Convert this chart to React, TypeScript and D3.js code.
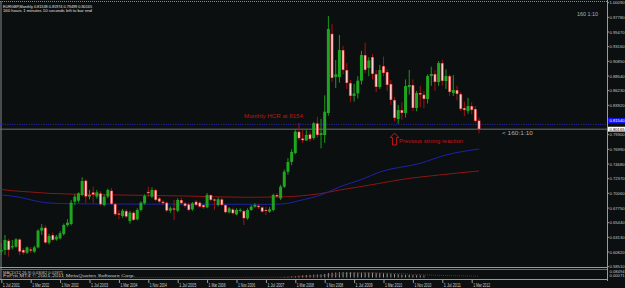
import React from "react";
import * as d3 from "d3";

const W = 625, H = 288;

const opens = [0.6090,0.6114,0.6261,0.6155,0.6166,0.6281,0.6114,0.6072,0.6124,0.6087,0.6155,0.6418,0.6465,0.6229,0.6350,0.6281,0.6297,0.6365,0.6507,0.6523,0.6875,0.6891,0.6980,0.7206,0.6954,0.7022,0.6954,0.7006,0.6822,0.6954,0.7048,0.6838,0.6691,0.6649,0.6728,0.6570,0.6702,0.6597,0.6744,0.6849,0.7030,0.6954,0.7058,0.6927,0.6875,0.6859,0.6733,0.6770,0.6733,0.6901,0.6849,0.6833,0.6754,0.6875,0.6859,0.6822,0.6786,0.6980,0.6912,0.6822,0.6912,0.6822,0.6707,0.6754,0.6675,0.6728,0.6728,0.6612,0.6744,0.6796,0.6812,0.6786,0.6744,0.6717,0.6744,0.6980,0.6927,0.7111,0.7347,0.7500,0.7641,0.7977,0.7872,0.7840,0.7935,0.7877,0.8109,0.7924,0.7924,0.8271,0.9520,0.8840,0.8838,0.9263,0.8948,0.8743,0.8540,0.8580,0.8780,0.9184,0.8980,0.9153,0.8885,0.8680,0.9011,0.8917,0.8728,0.8476,0.8176,0.8318,0.8271,0.8680,0.8712,0.8350,0.8586,0.8560,0.8491,0.8854,0.8885,0.8759,0.9058,0.8775,0.8854,0.8586,0.8633,0.8570,0.8350,0.8302,0.8381,0.8334,0.81538];
const highs = [0.6220,0.6350,0.6290,0.6271,0.6300,0.6300,0.6140,0.6170,0.6160,0.6180,0.6440,0.6520,0.6500,0.6370,0.6390,0.6350,0.6410,0.6530,0.6600,0.6900,0.6990,0.7020,0.7258,0.7230,0.7060,0.7111,0.7060,0.7040,0.6990,0.7080,0.7090,0.6860,0.6744,0.6760,0.6760,0.6730,0.6730,0.6770,0.6880,0.6990,0.7111,0.7100,0.7080,0.6950,0.6900,0.6880,0.6800,0.6901,0.6930,0.6940,0.6870,0.6860,0.6870,0.6900,0.6880,0.6840,0.7010,0.6990,0.6927,0.6940,0.6940,0.6840,0.6790,0.6780,0.6770,0.6770,0.6750,0.6770,0.6820,0.6850,0.6840,0.6800,0.6796,0.6790,0.7000,0.7010,0.7140,0.7380,0.7560,0.7700,0.8010,0.8114,0.8000,0.8000,0.7980,0.8130,0.8213,0.8180,0.8550,0.9800,0.9673,0.9106,0.9500,0.9330,0.9060,0.8790,0.8730,0.8850,0.9250,0.9380,0.9150,0.9200,0.8950,0.9030,0.9160,0.8960,0.8790,0.8520,0.8400,0.8440,0.8800,0.8950,0.8800,0.8620,0.8700,0.8620,0.8880,0.9000,0.8950,0.9090,0.9110,0.8960,0.8880,0.8870,0.8700,0.8600,0.8450,0.8510,0.8440,0.8380,0.81974];
const lows = [0.6030,0.6035,0.6009,0.6124,0.6150,0.6035,0.6040,0.6050,0.6070,0.6070,0.6140,0.6350,0.6210,0.6200,0.6250,0.6260,0.6280,0.6340,0.6480,0.6500,0.6820,0.6860,0.6960,0.6849,0.6910,0.6849,0.6920,0.6810,0.6800,0.6930,0.6820,0.6650,0.6597,0.6620,0.6620,0.6530,0.6570,0.6580,0.6720,0.6830,0.6950,0.6930,0.6880,0.6850,0.6820,0.6710,0.6700,0.6586,0.6710,0.6830,0.6780,0.6720,0.6730,0.6800,0.6780,0.6760,0.6770,0.6880,0.6744,0.6800,0.6800,0.6690,0.6690,0.6670,0.6660,0.6710,0.6507,0.6590,0.6730,0.6780,0.6760,0.6700,0.6665,0.6700,0.6720,0.6930,0.6900,0.7090,0.7300,0.7450,0.7620,0.7840,0.7800,0.7830,0.7820,0.7850,0.7880,0.7715,0.7800,0.8230,0.8760,0.8665,0.8750,0.8880,0.8650,0.8440,0.8450,0.8500,0.8720,0.8900,0.8850,0.8800,0.8600,0.8650,0.8850,0.8620,0.8400,0.8140,0.8100,0.8165,0.8200,0.8560,0.8300,0.8300,0.8360,0.8350,0.8420,0.8700,0.8620,0.8700,0.8700,0.8650,0.8540,0.8540,0.8470,0.8300,0.8220,0.8260,0.8250,0.8120,0.79499];
const closes = [0.6114,0.6271,0.6114,0.6176,0.6281,0.6087,0.6072,0.6155,0.6103,0.6155,0.6418,0.6465,0.6229,0.6334,0.6271,0.6323,0.6376,0.6507,0.6544,0.6859,0.6954,0.7006,0.7200,0.6954,0.6980,0.6985,0.7022,0.6833,0.6954,0.7058,0.6838,0.6675,0.6670,0.6733,0.6638,0.6702,0.6586,0.6744,0.6859,0.6964,0.7006,0.7058,0.6901,0.6875,0.6849,0.6733,0.6770,0.6750,0.6901,0.6849,0.6807,0.6744,0.6849,0.6822,0.6796,0.6786,0.6980,0.6901,0.6891,0.6912,0.6822,0.6707,0.6770,0.6691,0.6744,0.6744,0.6612,0.6744,0.6796,0.6822,0.6786,0.6717,0.6728,0.6754,0.6980,0.6954,0.7111,0.7347,0.7500,0.7657,0.7977,0.7872,0.7840,0.7925,0.7860,0.8109,0.7924,0.7955,0.8292,0.9594,0.8822,0.8880,0.9263,0.8948,0.8743,0.8539,0.8580,0.8780,0.9184,0.8948,0.9100,0.8885,0.8680,0.8948,0.8901,0.8712,0.8476,0.8192,0.8318,0.8271,0.8696,0.8712,0.8350,0.8586,0.8560,0.8491,0.8854,0.8885,0.8759,0.9058,0.8775,0.8854,0.8602,0.8633,0.8570,0.8334,0.8318,0.8381,0.8318,0.8145,0.80165];

// moving averages, read as [month index, value]
const blueMA = [[0,0.6980],[5,0.6944],[9,0.6890],[12,0.6858],[18,0.6843],[27,0.6838],[54,0.6835],[74,0.6833],[78,0.6849],[81,0.6890],[87,0.6980],[92,0.7106],[98,0.7224],[103,0.7342],[114,0.7479],[121,0.7610],[130,0.7704]];
const redMA = [[0,0.7067],[3,0.7047],[8,0.7027],[13,0.7006],[22,0.6991],[32,0.6980],[50,0.6964],[66,0.6944],[78,0.6953],[81,0.6964],[87,0.7003],[92,0.7058],[98,0.7114],[103,0.7164],[108,0.7216],[119,0.7294],[130,0.7358]];

// MACD histogram [month index, value] and signal
const macdMain = [[76,0.003],[77,0.006],[78,0.010],[79,0.015],[80,0.020],[81,0.026],[82,0.030],[83,0.034],[84,0.037],[85,0.041],[86,0.043],[87,0.045],[88,0.050],[89,0.062],[90,0.068],[91,0.071],[92,0.075],[93,0.076],[94,0.076],[95,0.074],[96,0.072],[97,0.071],[98,0.072],[99,0.071],[100,0.070],[101,0.068],[102,0.065],[103,0.063],[104,0.061],[105,0.058],[106,0.054],[107,0.048],[108,0.044],[109,0.040],[110,0.038],[111,0.036],[112,0.033],[113,0.031],[114,0.029],[115,0.027]];
const macdSignal = [[0,0.000],[30,0.001],[60,0.002],[76,0.004],[82,0.014],[88,0.030],[94,0.058],[100,0.066],[106,0.060],[112,0.045],[118,0.032],[124,0.024],[130,0.018]];

const timeLabels = ["1 Jul 2001","1 Mar 2002","1 Nov 2002","1 Jul 2003","1 Mar 2004","1 Nov 2004","1 Jul 2005","1 Mar 2006","1 Nov 2006","1 Jul 2007","1 Mar 2008","1 Nov 2008","1 Jul 2009","1 Mar 2010","1 Nov 2010","1 Jul 2011","1 Mar 2012"];
const timeLabelIdx = [0,8,16,24,32,40,48,56,64,72,80,88,96,104,112,120,128];

const priceTicks = [1.0009,0.9778,0.9547,0.9316,0.9085,0.8854,0.8623,0.8392,0.7930,0.7699,0.7468,0.7237,0.7006,0.6775,0.6544,0.6313,0.6082,0.5851];

const hcrLevel = 0.8093;
const hcrLabel = 0.8154;
const lastClose = 0.80165;
const titleLine1 = "EURGBP,Monthly  0.81538 0.81974 0.79499 0.80165";
const titleLine2 = "160 hours 1 minutes 10 seconds left to bar end";

export default function App() {
  const x = d3.scaleLinear().domain([0, 130]).range([1.3, 1.3 + 130 * 3.675]);
  const y = d3.scaleLinear().domain([0.6775, 0.7468]).range([208, 164]);
  const sy = d3.scaleLinear().domain([0, 0.0849]).range([277.5, 271.5]);
  const axisX = 607;
  const font = "'Liberation Sans', Arial, sans-serif";

  const maLine = d3.line<number[]>().x(d => x(d[0])).y(d => y(d[1])).curve(d3.curveMonotoneX);
  const sigLine = d3.line<number[]>().x(d => x(d[0])).y(d => sy(d[1])).curve(d3.curveMonotoneX);

  const candles = opens.map((o, i) => {
    const c = closes[i], h = highs[i], l = lows[i];
    const bull = c >= o;
    const cx = x(i);
    const top = y(Math.max(o, c)), bot = y(Math.min(o, c));
    const bh = Math.max(1, bot - top);
    return (
      <g key={i}>
        <line x1={cx} x2={cx} y1={y(h)} y2={y(l)} stroke={bull ? "#1c9a1c" : "#a31212"} strokeWidth={1} />
        {bull ? (
          <rect x={cx - 1.5} y={top} width={3} height={bh} fill="#1fa51f" />
        ) : (
          <g>
            <rect x={cx - 1.5} y={top} width={3} height={bh} fill="#d23030" />
            <rect x={cx - 0.8} y={top + 0.5} width={1.6} height={Math.max(0.5, bh - 1)} fill="#ffd0d0" />
          </g>
        )}
      </g>
    );
  });

  return (
    <svg width={W} height={H} style={{ position: "absolute", left: 0, top: 0, display: "block" }} fontFamily={font}>
      <rect x={0} y={0} width={W} height={H} fill="#0b0f0f" />
      {/* window borders */}
      <line x1={0} x2={axisX} y1={1.5} y2={1.5} stroke="#8a8a8a" strokeDasharray="1,1" />
      <line x1={1} x2={1} y1={1} y2={279} stroke="#8a8a8a" />
      <line x1={0} x2={axisX} y1={267.5} y2={267.5} stroke="#9a9a9a" />
      <line x1={0} x2={axisX} y1={269.5} y2={269.5} stroke="#6a6a6a" />
      <line x1={0} x2={axisX} y1={279.5} y2={279.5} stroke="#9a9a9a" />
      <line x1={axisX + 0.5} x2={axisX + 0.5} y1={0} y2={281} stroke="#9a9a9a" />

      {/* moving averages */}
      <path d={maLine(redMA) || ""} fill="none" stroke="#8e1414" strokeWidth={1} />
      <path d={maLine(blueMA) || ""} fill="none" stroke="#1f22a8" strokeWidth={1} />

      {/* horizontal lines */}
      <line x1={0} x2={axisX} y1={y(hcrLevel)} y2={y(hcrLevel)} stroke="#2525c0" strokeDasharray="1.2,1.2" />
      <line x1={0} x2={axisX} y1={y(lastClose)} y2={y(lastClose)} stroke="#707070" />

      {candles}

      {/* annotations */}
      <text x={244} y={118} fontSize={5} fill="#b81818" textLength={59} lengthAdjust="spacingAndGlyphs">Monthly HCR at  8154</text>
      <path d="M394.5,133 L398.8,137.5 L396.6,137.5 L396.6,145 L392.4,145 L392.4,137.5 L390.2,137.5 Z" fill="none" stroke="#c01818" strokeWidth={1} />
      <text x={399} y={143} fontSize={4.6} fill="#c01818" textLength={64} lengthAdjust="spacingAndGlyphs">Previous strong reaction</text>
      <text x={502} y={135} fontSize={4.6} fill="#b0b0b0" textLength={31} lengthAdjust="spacingAndGlyphs">&lt; 160:1:10</text>
      <text x={577} y={16} fontSize={4.6} fill="#b0b0b0" textLength={21} lengthAdjust="spacingAndGlyphs">160 1:10</text>

      {/* title */}
      <text x={3} y={7.5} fontSize={4.4} fill="#e0e0e0" textLength={89} lengthAdjust="spacingAndGlyphs">{titleLine1}</text>
      <text x={3} y={11.5} fontSize={4.4} fill="#e0e0e0" textLength={89} lengthAdjust="spacingAndGlyphs">{titleLine2}</text>

      {/* price axis */}
      {priceTicks.map((p, i) => (
        <g key={i}>
          <line x1={axisX} x2={axisX + 2} y1={y(p)} y2={y(p)} stroke="#9a9a9a" />
          <text x={609.5} y={y(p) + 1.5} fontSize={4.2} fill="#c8c8c8" textLength={15} lengthAdjust="spacingAndGlyphs">{p.toFixed(5)}</text>
        </g>
      ))}
      <rect x={axisX + 1} y={y(hcrLabel) - 2.6} width={17} height={5.8} fill="#1010f0" />
      <text x={609.5} y={y(hcrLabel) + 1.6} fontSize={4.2} fill="#ffffff" textLength={15} lengthAdjust="spacingAndGlyphs">{hcrLabel.toFixed(5)}</text>
      <rect x={axisX + 1} y={y(lastClose) - 2.4} width={17} height={4.8} fill="#ffffff" />
      <text x={609.5} y={y(lastClose) + 1.5} fontSize={4.2} fill="#000000" textLength={15} lengthAdjust="spacingAndGlyphs">{lastClose.toFixed(5)}</text>

      {/* MACD sub window */}
      {macdMain.map((d, i) => (
        <line key={i} x1={x(d[0])} x2={x(d[0])} y1={sy(0)} y2={sy(d[1])} stroke="#9a9a9a" strokeWidth={1} />
      ))}
      <path d={sigLine(macdSignal) || ""} fill="none" stroke="#b01010" strokeWidth={1} strokeDasharray="1,1" />
      <text x={3} y={273.5} fontSize={3.8} fill="#c8c8c8" textLength={60} lengthAdjust="spacingAndGlyphs">MACD(12,26,9) 0.03082 0.01871</text>
      <text x={3} y={277} fontSize={3.8} fill="#c8c8c8" textLength={132} lengthAdjust="spacingAndGlyphs">FxPro MT4 © 2001-2011 MetaQuotes Software Corp.</text>
      <text x={609.5} y={273} fontSize={3.6} fill="#c8c8c8" textLength={15} lengthAdjust="spacingAndGlyphs">0.08494</text>
      <text x={609.5} y={276.5} fontSize={3.6} fill="#c8c8c8" textLength={15} lengthAdjust="spacingAndGlyphs">0.00071</text>

      {/* time axis */}
      {timeLabels.map((t, i) => {
        const tx = x(timeLabelIdx[i]);
        return (
          <g key={i}>
            <line x1={tx + 0.5} x2={tx + 0.5} y1={280} y2={283} stroke="#9a9a9a" />
            <text x={tx + 1.5} y={286.8} fontSize={5} fill="#d0d0d0" textLength={17} lengthAdjust="spacingAndGlyphs">{t}</text>
          </g>
        );
      })}
    </svg>
  );
}
